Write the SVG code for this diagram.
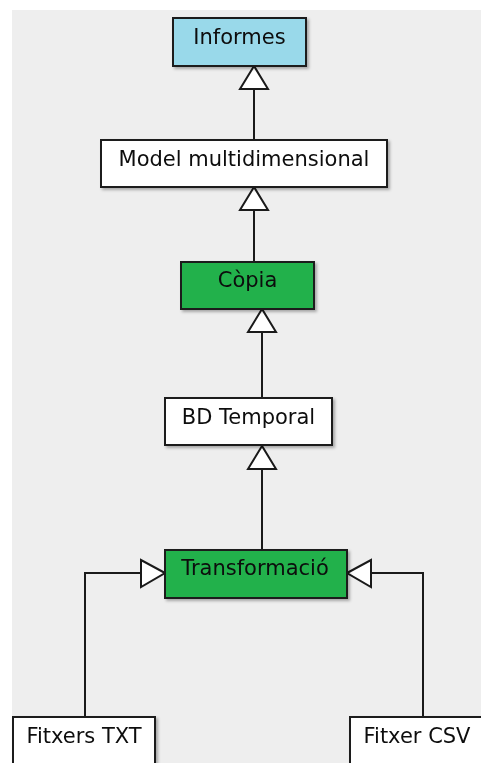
<svg xmlns="http://www.w3.org/2000/svg" width="481" height="763" viewBox="0 0 481 763">
  <defs>
    <style>
      .box { stroke: #1a1a1a; stroke-width: 2; }
      .plain { fill: #ffffff; }
      .blue { fill: #99d9ea; }
      .green { fill: #22b14c; }
      .label { font-family: "DejaVu Sans", "Liberation Sans", sans-serif; font-size: 21px; fill: #0d0d0d; text-anchor: middle; }
      .link { fill: none; stroke: #1a1a1a; stroke-width: 2; }
      .head { fill: #ffffff; stroke: #1a1a1a; stroke-width: 2; stroke-linejoin: miter; }
    </style>
    <filter id="shadow" x="-10%" y="-10%" width="130%" height="140%">
      <feDropShadow dx="2" dy="2" stdDeviation="1.5" flood-color="#000000" flood-opacity="0.3"/>
    </filter>
  </defs>

  <!-- canvas -->
  <rect x="0" y="0" width="481" height="763" fill="#ffffff"/>
  <rect x="12" y="10" width="469" height="753" fill="#eeeeee"/>

  <!-- connectors -->
  <g id="connectors">
    <line class="link" x1="254" y1="89" x2="254" y2="140"/>
    <polygon class="head" points="254,66 240,89 268,89"/>

    <line class="link" x1="254" y1="210" x2="254" y2="262"/>
    <polygon class="head" points="254,187 240,210 268,210"/>

    <line class="link" x1="262" y1="332" x2="262" y2="398"/>
    <polygon class="head" points="262,309 248,332 276,332"/>

    <line class="link" x1="262" y1="469" x2="262" y2="550"/>
    <polygon class="head" points="262,446 248,469 276,469"/>

    <polyline class="link" points="85,717 85,573 141,573"/>
    <polygon class="head" points="165,573 141,560 141,587"/>

    <polyline class="link" points="423,717 423,573 371,573"/>
    <polygon class="head" points="347,573 371,560 371,587"/>
  </g>

  <!-- nodes -->
  <g id="informes" filter="url(#shadow)">
    <rect class="box blue" x="173" y="18" width="133" height="48"/>
    <text class="label" x="239.5" y="44">Informes</text>
  </g>

  <g id="model" filter="url(#shadow)">
    <rect class="box plain" x="101" y="140" width="286" height="47"/>
    <text class="label" x="244" y="166">Model multidimensional</text>
  </g>

  <g id="copia" filter="url(#shadow)">
    <rect class="box green" x="181" y="262" width="133" height="47"/>
    <text class="label" x="247.5" y="287">Còpia</text>
  </g>

  <g id="bd-temporal" filter="url(#shadow)">
    <rect class="box plain" x="165" y="398" width="167" height="47"/>
    <text class="label" x="248.5" y="424">BD Temporal</text>
  </g>

  <g id="transformacio" filter="url(#shadow)">
    <rect class="box green" x="165" y="550" width="182" height="48"/>
    <text class="label" x="255" y="575">Transformació</text>
  </g>

  <g id="fitxers-txt" filter="url(#shadow)">
    <rect class="box plain" x="13" y="717" width="142" height="60"/>
    <text class="label" x="84" y="743">Fitxers TXT</text>
  </g>

  <g id="fitxer-csv" filter="url(#shadow)">
    <rect class="box plain" x="350" y="717" width="140" height="60"/>
    <text class="label" x="417" y="743">Fitxer CSV</text>
  </g>
</svg>
